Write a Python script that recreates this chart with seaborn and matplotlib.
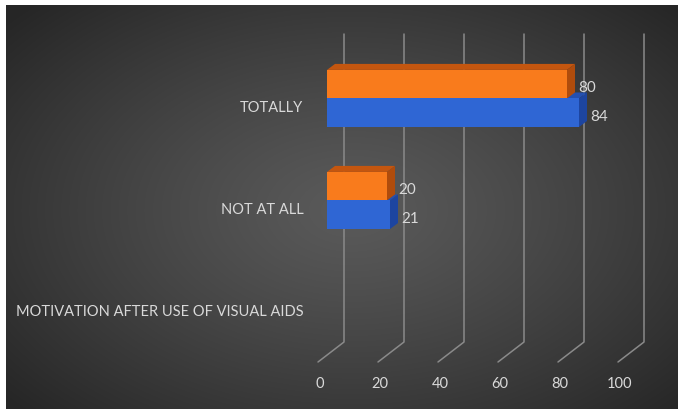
import numpy as np
import pandas as pd
import matplotlib
matplotlib.use("Agg")
import matplotlib.pyplot as plt
import matplotlib.transforms as mtrans
from matplotlib.patches import Polygon
import seaborn as sns

# ---------------- data ----------------
categories = ["TOTALLY", "NOT AT ALL", "MOTIVATION AFTER USE OF VISUAL AIDS"]
data_categories = ["TOTALLY", "NOT AT ALL"]
series_blue = [84, 21]
series_orange = [80, 20]
series_names = ["Series 2", "Series 1"]      # orange drawn above blue
x_ticks = [0, 20, 40, 60, 80, 100]

df = pd.DataFrame({
    "category": data_categories * 2,
    "series": ["Series 1"] * len(data_categories) + ["Series 2"] * len(data_categories),
    "value": series_blue + series_orange,
})

# ---------------- style ----------------
sns.set_theme(style="white")
plt.rcParams["font.family"] = ["Lato", "DejaVu Sans"]
TEXT = "#D9D9D9"
ORANGE, BLUE = "#F97B1C", "#2F66D4"
ORANGE_TOP, ORANGE_SIDE = "#C4560F", "#B04C0C"
BLUE_TOP, BLUE_SIDE = "#2450B0", "#1D45A0"
GRID = "#8A8A8A"

W, H, DPI = 678, 410, 100
fig = plt.figure(figsize=(W / DPI, H / DPI), dpi=DPI)
fig.patch.set_facecolor("white")

# background radial gradient (starts 6px in from top/left)
bg = fig.add_axes([6 / W, 0, (W - 6) / W, (H - 6) / H])
bg.set_axis_off()
yy, xx = np.mgrid[0:H - 6, 0:W - 6]
cx, cy = 345, 205
d = np.sqrt(((xx - cx) / 340.0) ** 2 + ((yy - cy) / 215.0) ** 2)
t = np.clip(d / 1.35, 0, 1) ** 1.2
c0, c1 = 0x5A / 255, 0x26 / 255
g = c0 + (c1 - c0) * t
img = np.dstack([g, g, g])
bg.imshow(img, aspect="auto", interpolation="bilinear")

# main axes: value 0 at px 327, 3 px per unit; plot top px 35, bottom px 345
ax_left, ax_right = 327, 627
ax_top, ax_bot = 35, 345
ax = fig.add_axes([ax_left / W, (H - ax_bot) / H, (ax_right - ax_left) / W, (ax_bot - ax_top) / H])
ax.patch.set_alpha(0)

sns.barplot(data=df, y="category", x="value", hue="series", hue_order=series_names,
            order=categories, palette=[ORANGE, BLUE], width=0.56, orient="h",
            errorbar=None, saturation=1, legend=False, ax=ax, zorder=3)

ax.set_xlim(0, 100)
ax.set_ylim(2.407, -0.632)
for s in ax.spines.values():
    s.set_visible(False)
ax.set_xlabel("")
ax.set_ylabel("")
ax.grid(False)

# 3D-looking gridlines (back wall + floor diagonal)
px = 3.0  # px per value unit
xt = ax.get_xaxis_transform()
for v in x_ticks:
    xb = v + 17 / px
    xf = v - 9 / px
    ax.plot([xb, xb, xf], [1.0, (ax_bot - 343) / (ax_bot - ax_top), (ax_bot - 363) / (ax_bot - ax_top)],
            transform=xt, color=GRID, lw=1.1, clip_on=False, zorder=1)

# ticks
ax.set_xticks(x_ticks)
ax.set_xticklabels([str(v) for v in x_ticks])
ax.tick_params(axis="x", length=0, pad=23, labelsize=10.5, labelcolor=TEXT)
ax.set_yticks(range(len(categories)))
ax.set_yticklabels(categories)
ax.tick_params(axis="y", length=0, pad=17, labelsize=10.5, labelcolor=TEXT)
for lab in ax.get_xticklabels():
    lab.set_transform(lab.get_transform() + mtrans.ScaledTranslation(-7 / DPI, 0, fig.dpi_scale_trans))
for lab in ax.get_yticklabels():
    lab.set_transform(lab.get_transform() + mtrans.ScaledTranslation(0, -7 / DPI, fig.dpi_scale_trans))

# 3D faces for the bars (depth: 8 px right, 6 px up)
ypx = (ax_bot - ax_top) / (2.407 + 0.632)
ddx, ddy = 8 / px, 6 / ypx
bars = [p for p in ax.patches if p.get_width() > 0]
# draw blue (lower) first, then orange
bars_sorted = sorted(bars, key=lambda p: -p.get_y())
for p in bars_sorted:
    fc = matplotlib.colors.to_hex(p.get_facecolor())
    if fc.lower() == BLUE.lower():
        top_c, side_c = BLUE_TOP, BLUE_SIDE
    else:
        top_c, side_c = ORANGE_TOP, ORANGE_SIDE
    x0, x1 = p.get_x(), p.get_x() + p.get_width()
    yt, yb = p.get_y(), p.get_y() + p.get_height()
    top = Polygon([(x0, yt), (x1, yt), (x1 + ddx, yt - ddy), (x0 + ddx, yt - ddy)],
                  closed=True, facecolor=top_c, edgecolor="none", zorder=2.5)
    side = Polygon([(x1, yt), (x1, yb), (x1 + ddx, yb - ddy), (x1 + ddx, yt - ddy)],
                   closed=True, facecolor=side_c, edgecolor="none", zorder=2.6)
    ax.add_patch(top)
    ax.add_patch(side)
    p.set_edgecolor("none")
    p.set_zorder(3)

# value labels
for cont in ax.containers:
    anns = ax.bar_label(cont, fmt="%g", padding=8, color=TEXT, fontsize=11)
    for a in anns:
        a.xyann = (8, -2.2)

fig.savefig("out.png", dpi=DPI)
